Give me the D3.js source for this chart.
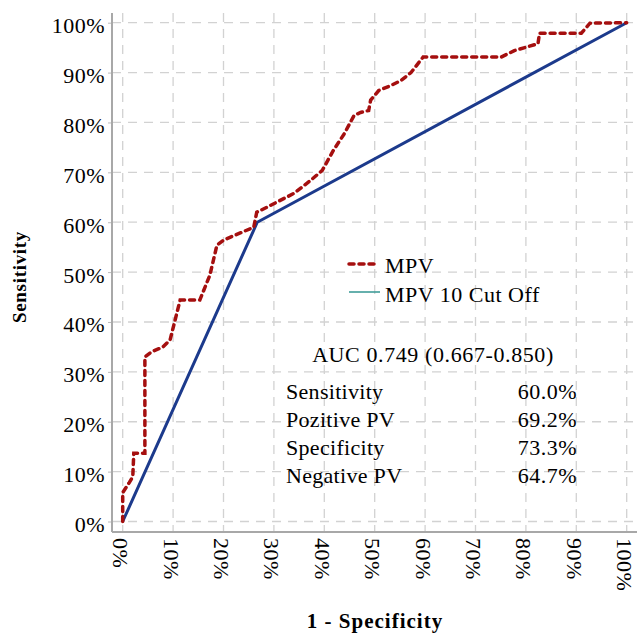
<!DOCTYPE html>
<html>
<head>
<meta charset="utf-8">
<script src="https://cdn.jsdelivr.net/npm/d3@7"></script>
<style>
  body { margin: 0; background: #fff; }
  svg { display: block; }
  text { font-family: "Liberation Serif", "Times New Roman", serif; fill: #000; }
</style>
</head>
<body>
<svg width="637" height="633"></svg>
<script>
// MPV ROC curve (1 - specificity, sensitivity)
var mpvFpr = [0, 0, 0.013, 0.02, 0.022, 0.044, 0.044, 0.057, 0.08, 0.094, 0.104, 0.114, 0.153, 0.173, 0.187, 0.2, 0.26, 0.266, 0.286, 0.34, 0.373, 0.396, 0.418, 0.44, 0.459, 0.472, 0.488, 0.492, 0.508, 0.532, 0.552, 0.572, 0.596, 0.751, 0.777, 0.824, 0.827, 0.91, 0.927, 1.0];
var mpvTpr = [0, 0.058, 0.078, 0.09, 0.137, 0.137, 0.33, 0.34, 0.35, 0.364, 0.404, 0.444, 0.444, 0.494, 0.554, 0.564, 0.59, 0.62, 0.63, 0.658, 0.684, 0.704, 0.744, 0.778, 0.814, 0.82, 0.824, 0.845, 0.864, 0.874, 0.884, 0.90, 0.931, 0.931, 0.944, 0.958, 0.979, 0.979, 0.999, 1.0];

// MPV 10 cut off
var cutFpr = [0, 0.267, 1];
var cutTpr = [0, 0.60, 1];

var tickValues = [0, 0.1, 0.2, 0.3, 0.4, 0.5, 0.6, 0.7, 0.8, 0.9, 1];
var seriesNames = ["MPV", "MPV 10 Cut Off"];
var aucText = "AUC 0.749 (0.667-0.850)";
var statLabels = ["Sensitivity", "Pozitive PV", "Specificity", "Negative PV"];
var statValues = ["60.0%", "69.2%", "73.3%", "64.7%"];

var red = "#a50f0f", blue = "#1c3a8c", teal = "#3f9c98";

var svg = d3.select("svg");
var frame = {left: 112, right: 637, top: 13, bottom: 532};

var x = d3.scaleLinear().domain([0, 1]).range([122.7, 626.7]);
var y = d3.scaleLinear().domain([0, 1]).range([521.5, 22.7]);
var pct = d3.format(".0%");

// grid
var grid = svg.append("g").attr("stroke", "#d2d2d2").attr("stroke-width", 1.3)
    .attr("stroke-dasharray", "9,7");
grid.selectAll(".vg").data(tickValues).enter().append("line")
    .attr("x1", function(d) { return x(d); }).attr("x2", function(d) { return x(d); })
    .attr("y1", frame.top).attr("y2", frame.bottom);
grid.selectAll(".hg").data(tickValues).enter().append("line")
    .attr("y1", function(d) { return y(d); }).attr("y2", function(d) { return y(d); })
    .attr("x1", frame.left).attr("x2", 633);

// axes
var yAxis = svg.append("g")
    .attr("transform", "translate(" + frame.left + ",0)")
    .call(d3.axisLeft(y).tickValues(tickValues).tickFormat(pct).tickSize(4).tickPadding(3));
yAxis.select(".domain").remove();
yAxis.selectAll(".tick line").attr("stroke", "#bbb");
yAxis.selectAll(".tick text").attr("font-size", 22).attr("dy", "0.45em")
    .attr("letter-spacing", 0.5).attr("fill", "#000")
    .style("font-family", "'Liberation Serif', serif");

var xAxis = svg.append("g")
    .attr("transform", "translate(0," + frame.bottom + ")")
    .call(d3.axisBottom(x).tickValues(tickValues).tickFormat(pct).tickSize(0));
xAxis.select(".domain").remove();
xAxis.selectAll(".tick text")
    .attr("font-size", 22).attr("letter-spacing", 0.5).attr("fill", "#000")
    .style("font-family", "'Liberation Serif', serif")
    .attr("text-anchor", "start")
    .attr("transform", "rotate(90)")
    .attr("x", 6).attr("y", 0).attr("dy", "0.45em");

svg.append("line").attr("x1", frame.left).attr("x2", frame.left)
    .attr("y1", frame.top).attr("y2", frame.bottom)
    .attr("stroke", "#a8a8a8").attr("stroke-width", 2);
svg.append("line").attr("x1", frame.left).attr("x2", frame.right)
    .attr("y1", frame.bottom).attr("y2", frame.bottom)
    .attr("stroke", "#a8a8a8").attr("stroke-width", 2);

// lines
var line = d3.line()
    .x(function(d) { return x(d[0]); })
    .y(function(d) { return y(d[1]); });

svg.append("path")
    .datum(d3.zip(cutFpr, cutTpr))
    .attr("fill", "none").attr("stroke", blue).attr("stroke-width", 3)
    .attr("d", line);

svg.append("path")
    .datum(d3.zip(mpvFpr, mpvTpr))
    .attr("fill", "none").attr("stroke", red).attr("stroke-width", 3.5)
    .attr("stroke-dasharray", "5,5").attr("stroke-linecap", "round")
    .attr("d", line);

// legend
var lg = svg.append("g");
lg.append("line").attr("x1", 349).attr("x2", 378).attr("y1", 264).attr("y2", 264)
    .attr("stroke", red).attr("stroke-width", 3.5).attr("stroke-dasharray", "5,5")
    .attr("stroke-linecap", "round");
lg.append("line").attr("x1", 349).attr("x2", 380).attr("y1", 292).attr("y2", 292)
    .attr("stroke", teal).attr("stroke-width", 1.6);
lg.selectAll(".lt").data(seriesNames).enter().append("text")
    .attr("x", 385).attr("y", function(d, i) { return 273 + i * 29; })
    .attr("font-size", 22).attr("letter-spacing", 0.5)
    .text(function(d) { return d; });

// AUC and stats
svg.append("text").attr("x", 433).attr("y", 362).attr("text-anchor", "middle")
    .attr("font-size", 22).attr("letter-spacing", 0.6).text(aucText);

svg.selectAll(".sl").data(statLabels).enter().append("text")
    .attr("x", 286).attr("y", function(d, i) { return 399 + i * 28; })
    .attr("font-size", 22).attr("letter-spacing", 0.3)
    .text(function(d) { return d; });
svg.selectAll(".sv").data(statValues).enter().append("text")
    .attr("x", 577).attr("y", function(d, i) { return 399 + i * 28; })
    .attr("text-anchor", "end")
    .attr("font-size", 22).attr("letter-spacing", 0.5)
    .text(function(d) { return d; });

// axis titles
svg.append("text").attr("x", 375).attr("y", 628).attr("text-anchor", "middle")
    .attr("font-size", 21).attr("font-weight", "bold").attr("letter-spacing", 1)
    .text("1 - Specificity");
svg.append("text").attr("transform", "translate(26,277) rotate(-90)")
    .attr("text-anchor", "middle")
    .attr("font-size", 19).attr("font-weight", "bold").attr("letter-spacing", 0.7)
    .text("Sensitivity");
</script>
</body>
</html>
